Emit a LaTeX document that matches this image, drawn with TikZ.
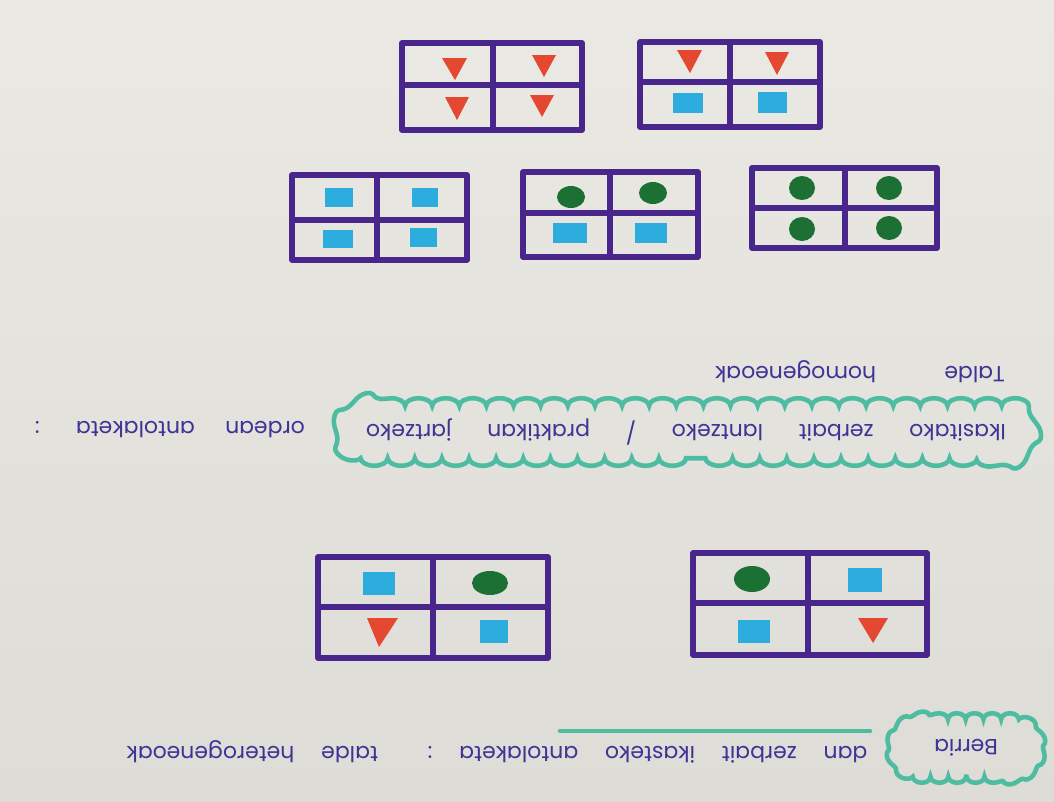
\documentclass[tikz,border=0pt]{standalone}
\usepackage{fontspec}
\setmainfont{Poppins}
\usetikzlibrary{shapes.misc,decorations.pathmorphing}
\definecolor{paperlight}{RGB}{234,233,228}
\definecolor{paperdark}{RGB}{221,220,215}
\definecolor{markerpurple}{RGB}{72,38,140}
\definecolor{inkblue}{RGB}{62,52,150}
\definecolor{cloudteal}{RGB}{78,188,160}
\definecolor{redtri}{RGB}{228,72,48}
\definecolor{bluesq}{RGB}{45,172,222}
\definecolor{greendot}{RGB}{28,112,52}

\tikzset{
    gridline/.style={markerpurple, line width=3.2pt, line join=round, line cap=round},
    hand/.style={text=inkblue, rotate=180, inner sep=0pt, font=\fontsize{12.5}{14}\selectfont},
    cloudbox/.style={rounded rectangle, draw=cloudteal, line width=2.6pt,
        decorate, decoration={bumps, segment length=1.085cm, amplitude=0.15cm}},
    sq/.style={fill=bluesq},
    dot/.style={fill=greendot},
    tri/.style={fill=redtri}
}

\begin{document}
\begin{tikzpicture}[x=0.02cm, y=-0.02cm]

% paper
\shade[top color=paperlight, bottom color=paperdark] (0,0) rectangle (1054,801);
\useasboundingbox (0,0) rectangle (1054,801);

% === TOP ROW ===
% four triangles
\draw[gridline] (402,43) rectangle (582,130) (402,85) -- (582,85) (493,43) -- (493,130);
\fill[tri] (442,58) -- ++(25,0) -- ++(-12,22) -- cycle;
\fill[tri] (532,55) -- ++(24,0) -- ++(-12,22) -- cycle;
\fill[tri] (445,97) -- ++(24,0) -- ++(-12,23) -- cycle;
\fill[tri] (530,95) -- ++(24,0) -- ++(-12,22) -- cycle;

% triangles and squares
\draw[gridline] (640,42) rectangle (820,127) (640,82) -- (820,82) (730,42) -- (730,127);
\fill[tri] (677,50) -- ++(25,0) -- ++(-12,23) -- cycle;
\fill[tri] (765,52) -- ++(24,0) -- ++(-12,23) -- cycle;
\fill[sq] (673,93) rectangle (703,113);
\fill[sq] (758,92) rectangle (787,113);

% === SECOND ROW ===
% four squares
\draw[gridline] (292,175) rectangle (467,260) (292,220) -- (467,220) (377,175) -- (377,260);
\fill[sq] (325,188) rectangle (353,207);
\fill[sq] (412,188) rectangle (438,207);
\fill[sq] (323,230) rectangle (353,248);
\fill[sq] (410,228) rectangle (437,247);

% circles and squares
\draw[gridline] (523,172) rectangle (698,257) (523,213) -- (698,213) (610,172) -- (610,257);
\fill[dot] (571,197) ellipse [x radius=14, y radius=11];
\fill[dot] (653,193) ellipse [x radius=14, y radius=11];
\fill[sq] (553,223) rectangle (587,243);
\fill[sq] (635,223) rectangle (667,243);

% four circles
\draw[gridline] (752,168) rectangle (937,248) (752,208) -- (937,208) (845,168) -- (845,248);
\foreach \cx/\cy in {802/188, 889/188, 802/229, 889/228}
    \fill[dot] (\cx,\cy) ellipse [x radius=13, y radius=12];

% === TEXT ===
\node[hand] (talde) at (860,372) {\makebox[5.8cm][s]{Talde homogeneoak}};
\node[cloudbox, hand, minimum width=13.7cm, minimum height=1.05cm] (ikasi) at (686,432)
    {\makebox[12.8cm][s]{Ikasitako zerbait lantzeko / praktikan jartzeko}};
\node[hand] (ordean) at (265,430) {ordean};
\node[hand] (antol) at (115,430) {\makebox[3.2cm][s]{antolaketa :}};

% === BOTTOM ROW ===
\draw[gridline] (318,557) rectangle (548,658) (318,607) -- (548,607) (433,557) -- (433,658);
\fill[sq] (363,572) rectangle (395,595);
\fill[dot] (490,583) ellipse [x radius=18, y radius=12];
\fill[tri] (367,618) -- ++(31,0) -- ++(-19,29) -- cycle;
\fill[sq] (480,620) rectangle (508,643);

\draw[gridline] (693,553) rectangle (927,655) (693,603) -- (927,603) (808,553) -- (808,655);
\fill[dot] (752,579) ellipse [x radius=18, y radius=13];
\fill[sq] (848,568) rectangle (882,592);
\fill[sq] (738,620) rectangle (770,643);
\fill[tri] (858,618) -- ++(30,0) -- ++(-15,25) -- cycle;

\node[cloudbox, hand, minimum width=2.9cm, minimum height=1.15cm,
    decoration={bumps, segment length=0.71cm, amplitude=0.12cm}] (berria) at (966,748) {Berria};
\node[hand] (hetero) at (497,752)
    {\makebox[14.82cm][s]{dan zerbait ikasteko antolaketa : talde heterogeneoak}};
\draw[cloudteal, line width=2.6pt, line cap=round] (560,731) -- (870,731);

\end{tikzpicture}
\end{document}
